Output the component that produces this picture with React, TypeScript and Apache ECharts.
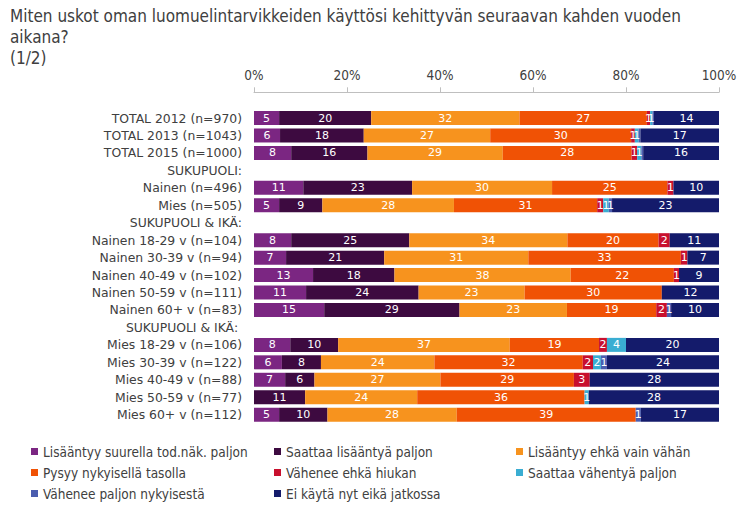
import React, { useEffect, useRef } from "react";
import * as echarts from "echarts";

const titleText = "Miten uskot oman luomuelintarvikkeiden käyttösi kehittyvän seuraavan kahden vuoden\naikana?\n(1/2)";

const categories = [
  "TOTAL 2012 (n=970)",
  "TOTAL 2013 (n=1043)",
  "TOTAL 2015 (n=1000)",
  "SUKUPUOLI:",
  "Nainen (n=496)",
  "Mies (n=505)",
  "SUKUPUOLI & IKÄ:",
  "Nainen 18-29 v (n=104)",
  "Nainen 30-39 v (n=94)",
  "Nainen 40-49 v (n=102)",
  "Nainen 50-59 v (n=111)",
  "Nainen 60+ v (n=83)",
  "SUKUPUOLI & IKÄ: ",
  "Mies 18-29 v (n=106)",
  "Mies 30-39 v (n=122)",
  "Mies 40-49 v (n=88)",
  "Mies 50-59 v (n=77)",
  "Mies 60+ v (n=112)",
];

const seriesNames = [
  "Lisääntyy suurella tod.näk. paljon",
  "Saattaa lisääntyä paljon",
  "Lisääntyy ehkä vain vähän",
  "Pysyy nykyisellä tasolla",
  "Vähenee ehkä hiukan",
  "Saattaa vähentyä paljon",
  "Vähenee paljon nykyisestä",
  "Ei käytä nyt eikä jatkossa",
];

const colors = ["#7B2682", "#3D0A40", "#F7931E", "#F05205", "#C8102E", "#3AADD2", "#4B5DAF", "#141B6B"];

const s1 = [5.4, 5.6, 8.0, null, 10.6, 5.4, null, 8.0, 6.9, 12.7, 11.2, 15.1, null, 7.8, 6.0, 6.7, 0, 5.4];
const s2 = [19.8, 18.0, 16.4, null, 23.4, 9.3, null, 25.4, 21.1, 17.5, 24.2, 29.1, null, 10.3, 8.4, 6.3, 11.0, 10.4];
const s3 = [31.9, 27.2, 29.1, null, 30.1, 28.3, null, 34.0, 31.0, 37.9, 22.8, 23.1, null, 36.9, 24.4, 27.1, 24.1, 27.8];
const s4 = [27.4, 30.3, 27.7, null, 24.8, 30.8, null, 19.6, 32.8, 22.2, 29.5, 19.2, null, 19.2, 31.9, 28.7, 36.0, 38.5];
const s5 = [0.7, 0.8, 1.2, null, 1.3, 1.3, null, 2.4, 1.4, 1.1, 0, 2.3, null, 1.7, 2.2, 3.4, 0, 0];
const s6 = [0.5, 0.8, 0.9, null, 0, 1.2, null, 0, 0, 0, 0, 0, null, 4.1, 1.7, 0, 0.9, 0];
const s7 = [0.3, 0.4, 0.4, null, 0, 0.7, null, 0, 0, 0, 0, 0.9, null, 0, 1.3, 0, 0, 1.1];
const s8 = [14.0, 16.9, 16.3, null, 9.8, 23.0, null, 10.6, 6.8, 8.6, 12.3, 10.3, null, 20.0, 24.1, 27.8, 28.0, 16.8];

const seriesData = [s1, s2, s3, s4, s5, s6, s7, s8];

const textColor = "#404040";

export default function App() {
  const ref = useRef<HTMLDivElement>(null);
  useEffect(() => {
    if (!ref.current) return;
    const chart = echarts.init(ref.current, null, { renderer: "svg" });
    const legendBase = {
      orient: "vertical" as const,
      top: 436,
      itemWidth: 7,
      itemHeight: 7,
      itemGap: 0,
      icon: "rect",
      textStyle: {
        fontFamily: "DejaVu Sans Condensed",
        fontSize: 13.5,
        color: textColor,
        lineHeight: 21,
      },
    };
    chart.setOption({
      animation: false,
      color: colors,
      title: {
        text: titleText,
        left: 5,
        top: 0,
        textStyle: {
          fontFamily: "DejaVu Sans Condensed",
          fontSize: 17,
          fontWeight: "normal",
          color: textColor,
          lineHeight: 21,
        },
      },
      legend: [
        { ...legendBase, left: 26, data: [seriesNames[0], seriesNames[3], seriesNames[6]] },
        { ...legendBase, left: 269, data: [seriesNames[1], seriesNames[4], seriesNames[7]] },
        { ...legendBase, left: 511, data: [seriesNames[2], seriesNames[5]] },
      ],
      grid: { left: 254, right: 36, top: 109.3, bottom: 102.6, containLabel: false },
      xAxis: {
        type: "value",
        position: "top",
        min: 0,
        max: 100,
        interval: 20,
        offset: 17,
        axisLine: { show: true, lineStyle: { color: "#BFBFBF" } },
        axisTick: { show: true, length: 5, lineStyle: { color: "#BFBFBF" } },
        splitLine: { show: false },
        axisLabel: {
          formatter: "{value}%",
          margin: 10,
          color: textColor,
          fontFamily: "DejaVu Sans Condensed",
          fontSize: 13.5,
        },
      },
      yAxis: {
        type: "category",
        data: categories,
        inverse: true,
        axisLine: { show: false },
        axisTick: { show: false },
        axisLabel: {
          color: textColor,
          fontFamily: "DejaVu Sans",
          fontSize: 12.4,
          margin: 12,
        },
      },
      series: seriesData.map((d, i) => ({
        name: seriesNames[i],
        type: "bar",
        stack: "total",
        barWidth: 14,
        data: d,
        itemStyle: { color: colors[i] },
        label: {
          show: true,
          position: "inside",
          color: "#fff",
          fontFamily: "DejaVu Sans",
          fontSize: 11,
          formatter: (p: any) => {
            const v = p.value;
            if (v === null || v === undefined || v < 0.45) return "";
            return String(Math.round(v));
          },
        },
      })),
    });
    return () => chart.dispose();
  }, []);
  return (
    <div
      ref={ref}
      style={{ position: "fixed", left: 0, top: 0, width: 755, height: 526, background: "#fff" }}
    />
  );
}
